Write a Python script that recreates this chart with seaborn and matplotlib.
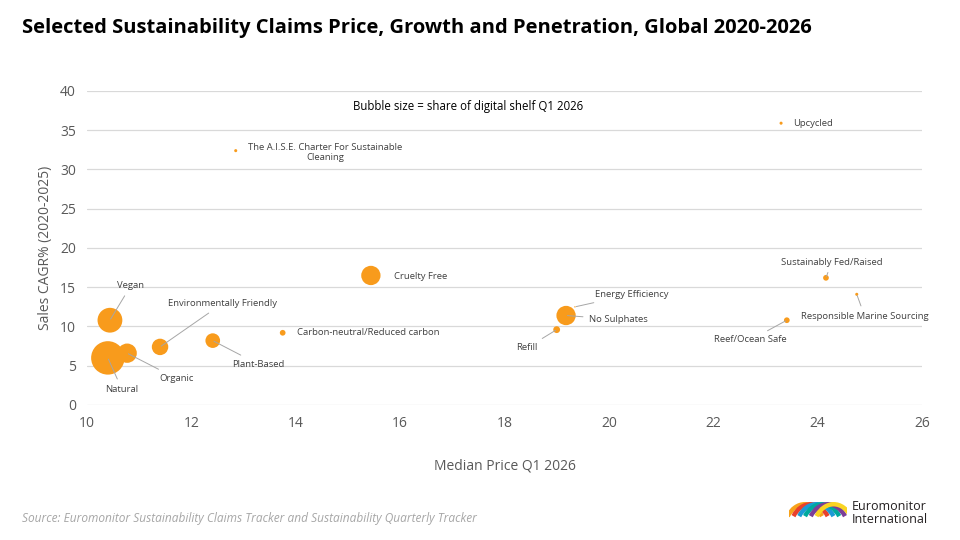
import numpy as np
import pandas as pd
import matplotlib
matplotlib.use("Agg")
import matplotlib.pyplot as plt
import seaborn as sns
from matplotlib.patches import Arc

# Dados
claims = ['Natural', 'Vegan', 'Organic', 'Environmentally Friendly', 'Plant-Based',
          'Carbon-neutral/Reduced carbon', 'The A.I.S.E. Charter For Sustainable Cleaning',
          'Cruelty Free', 'Refill', 'No Sulphates', 'Energy Efficiency', 'Upcycled',
          'Reef/Ocean Safe', 'Sustainably Fed/Raised', 'Responsible Marine Sourcing']
median_price = [10.40, 10.44, 10.77, 11.40, 12.41, 13.75, 12.85, 15.44, 19.00, 19.18,
                19.35, 23.30, 23.41, 24.16, 24.75]
sales_cagr = [6.0, 10.8, 6.6, 7.4, 8.2, 9.2, 32.4, 16.5, 9.6, 11.4, 12.5, 35.9, 10.8,
              16.2, 14.1]
shelf_share = [12.0, 6.6, 4.0, 2.9, 2.3, 0.35, 0.1, 4.0, 0.5, 4.0, 0.02, 0.1, 0.35,
               0.35, 0.1]

df = pd.DataFrame({'claim': claims, 'price': median_price, 'cagr': sales_cagr,
                   'share': shelf_share})

# Rótulos: (texto, x, y, alinhamento, linha guia)
labels = {
    'Natural': ('Natural', 10.67, 2.0, 'center', True),
    'Vegan': ('Vegan', 10.84, 15.2, 'center', True),
    'Organic': ('Organic', 11.38, 3.4, 'left', True),
    'Environmentally Friendly': ('Environmentally Friendly', 12.59, 12.9, 'center', True),
    'Plant-Based': ('Plant-Based', 12.78, 5.2, 'left', True),
    'Carbon-neutral/Reduced carbon': ('Carbon-neutral/Reduced carbon', 14.02, 9.2, 'left', False),
    'The A.I.S.E. Charter For Sustainable Cleaning': ('The A.I.S.E. Charter For Sustainable\nCleaning', 14.56, 32.2, 'center', False),
    'Cruelty Free': ('Cruelty Free', 15.88, 16.4, 'left', False),
    'Refill': ('Refill', 18.64, 7.3, 'right', True),
    'No Sulphates': ('No Sulphates', 19.62, 10.9, 'left', True),
    'Energy Efficiency': ('Energy Efficiency', 19.73, 14.1, 'left', True),
    'Upcycled': ('Upcycled', 23.54, 35.8, 'left', False),
    'Reef/Ocean Safe': ('Reef/Ocean Safe', 22.72, 8.3, 'center', True),
    'Sustainably Fed/Raised': ('Sustainably Fed/Raised', 24.27, 18.2, 'center', True),
    'Responsible Marine Sourcing': ('Responsible Marine Sourcing', 23.68, 11.3, 'left', True),
}

sns.set_theme(style='white')
plt.rcParams['font.family'] = ['Open Sans', 'DejaVu Sans']

orange = '#F89B1C'
fig = plt.figure(figsize=(9.6, 5.4), dpi=100)
ax = fig.add_axes([0.0906, 0.25, 0.8698, 0.5815])

sns.scatterplot(data=df, x='price', y='cagr', size='share', sizes=(0, 580),
                size_norm=(0, 12), color=orange, linewidth=0, alpha=1,
                legend=False, ax=ax, zorder=3)

ax.set_xlim(10, 26)
ax.set_ylim(0, 40)
ax.set_xticks(range(10, 27, 2))
ax.set_yticks(range(0, 41, 5))
ax.grid(axis='y', color='#D9D9D9', linewidth=0.9)
ax.grid(axis='x', visible=False)
for s in ax.spines.values():
    s.set_visible(False)
ax.tick_params(axis='both', labelsize=10, colors='#595959', length=0, pad=8)
ax.set_xlabel('Median Price Q1 2026', fontsize=10, color='#595959', labelpad=20)
ax.set_ylabel('Sales CAGR% (2020-2025)', fontsize=10, color='#595959', labelpad=5)

for _, r in df.iterrows():
    txt, tx, ty, ha, guia = labels[r['claim']]
    props = dict(arrowstyle='-', color='#A6A6A6', lw=0.7, shrinkA=2, shrinkB=1) if guia else None
    ax.annotate(txt, xy=(r['price'], r['cagr']), xytext=(tx, ty), ha=ha, va='center',
                fontsize=6.8, color='#404040', arrowprops=props, zorder=4,
                multialignment='center')

ax.text(17.3, 38.0, 'Bubble size = share of digital shelf Q1 2026', ha='center',
        va='center', fontsize=8.3, color='black')

fig.text(0.023, 0.948, 'Selected Sustainability Claims Price, Growth and Penetration, Global 2020-2026',
         fontsize=14.5, fontweight='bold', color='black', ha='left', va='center')
fig.text(0.023, 0.039, 'Source: Euromonitor Sustainability Claims Tracker and Sustainability Quarterly Tracker',
         fontsize=8.6, style='italic', color='#A6A6A6', ha='left', va='center')

# Logotipo simplificado
lax = fig.add_axes([0.822, 0.025, 0.06, 0.055])
lax.set_xlim(0, 2.2)
lax.set_ylim(0, 1)
lax.axis('off')
cores = ['#F7A21B', '#E8412C', '#1C9AD6', '#00A99D', '#7B3F98', '#F9D423']
for i, c in enumerate(cores):
    lax.add_patch(Arc((0.6 + i * 0.22, -0.2), 1.6, 1.9, theta1=40, theta2=140,
                      color=c, lw=3.2))
fig.text(0.887, 0.062, 'Euromonitor', fontsize=9, color='#231F20', ha='left', va='center')
fig.text(0.887, 0.038, 'International', fontsize=9, color='#231F20', ha='left', va='center')

fig.savefig('out.png', dpi=100)
